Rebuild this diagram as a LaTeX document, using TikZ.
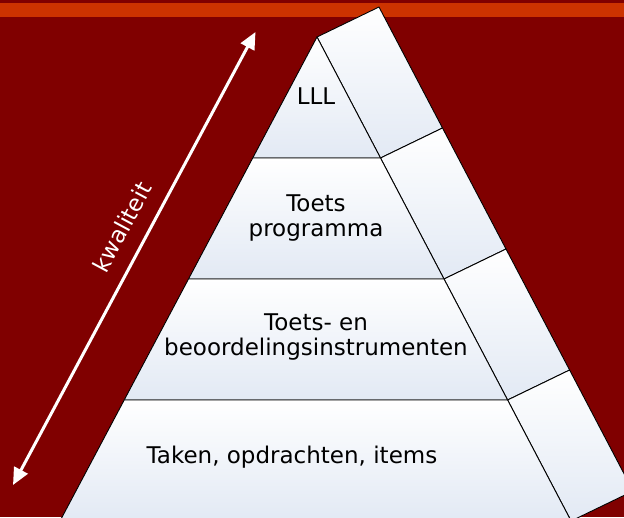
\documentclass[tikz,border=0pt]{standalone}
\usepackage{fontspec}
\setmainfont{DejaVu Sans}
\usetikzlibrary{arrows.meta}
\definecolor{bgred}{HTML}{800000}
\definecolor{stripe}{HTML}{CC3300}
\definecolor{facelow}{RGB}{226,233,244}
\tikzset{
  face/.style={top color=white, bottom color=facelow, draw=black, line width=0.9pt, line join=round},
  lbl/.style={font=\fontsize{23}{24.5}\selectfont, text=black, align=center, inner sep=0pt},
  qarrow/.style={draw=white, line width=3pt, {Triangle[length=17pt,width=15pt]}-{Triangle[length=17pt,width=15pt]}}
}
\begin{document}
\begin{tikzpicture}[x=1pt,y=1pt]
\useasboundingbox (0,0) rectangle (624,517);
\clip (0,0) rectangle (624,517);
\fill[bgred] (0,0) rectangle (624,517);
\fill[stripe] (0,500) rectangle (624,514);
% front face points
\coordinate (A) at (317,480);
\coordinate (L1) at (252.7,359); \coordinate (R1) at (380.5,359);
\coordinate (L2) at (188.5,238); \coordinate (R2) at (444,238);
\coordinate (L3) at (124.2,117); \coordinate (R3) at (507.6,117);
\coordinate (L4) at (60,-4);     \coordinate (R4) at (571.1,-4);
% back (side) points
\coordinate (B)  at (379,510);
\coordinate (S1) at (442.5,389);
\coordinate (S2) at (506,268);
\coordinate (S3) at (569.6,147);
\coordinate (S4) at (633.1,26);
% side face segments
\shade[face] (A) -- (B) -- (S1) -- (R1) -- cycle;
\shade[face] (R1) -- (S1) -- (S2) -- (R2) -- cycle;
\shade[face] (R2) -- (S2) -- (S3) -- (R3) -- cycle;
\shade[face] (R3) -- (S3) -- (S4) -- (R4) -- cycle;
% front face layers
\shade[face] (A) -- (R1) -- (L1) -- cycle;
\shade[face] (L1) -- (R1) -- (R2) -- (L2) -- cycle;
\shade[face] (L2) -- (R2) -- (R3) -- (L3) -- cycle;
\shade[face] (L3) -- (R3) -- (R4) -- (L4) -- cycle;
% labels
\node[lbl] (t1) at (316,421) {LLL};
\node[lbl] (t2) at (316,299) {Toets\\programma};
\node[lbl] (t3) at (316,180) {Toets- en\\beoordelingsinstrumenten};
\node[lbl] (t4) at (292,59.7) {Taken, opdrachten, items};
% quality arrow
\coordinate (qa) at (13,32);
\coordinate (qb) at (255.5,485);
\draw[qarrow] (qa) -- (qb);
\node[lbl, text=white, rotate=61.8] (kw) at (122,290) {kwaliteit};
\end{tikzpicture}
\end{document}
